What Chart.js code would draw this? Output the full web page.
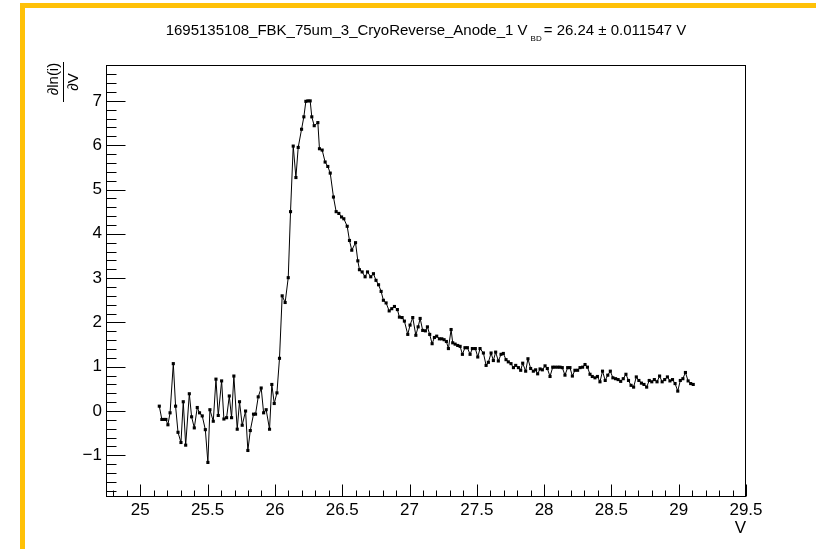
<!DOCTYPE html>
<html>
<head>
<meta charset="utf-8">
<title>dln(i)/dV</title>
<script src="https://cdn.jsdelivr.net/npm/chart.js"></script>
<style>
  html, body { margin: 0; padding: 0; background: #fff; }
  #wrap  { position: relative; width: 816px; height: 549px; overflow: hidden; font-family: 'Liberation Sans', Arial, sans-serif; color: #000; }
  #edge  { position: absolute; left: 20px; top: 3px; right: -10px; bottom: -10px; border-left: 5px solid #ffc107; border-top: 5px solid #ffc107; }
  #c     { position: absolute; left: 0; top: 0; }
  #title { position: absolute; left: 426px; top: 21px; transform: translateX(-50%); white-space: nowrap; font-size: 15px; }
  #title sub { font-size: 8px; vertical-align: -6px; margin-left: 3px; margin-right: 2px; }
  /* y axis title: a fraction turned on its side */
  .rot   { position: absolute; transform: translate(-50%, -50%) rotate(-90deg); font-size: 15px; line-height: 15px; white-space: nowrap; }
  #ynum  { left: 52px; top: 79px; }
  #yden  { left: 72px; top: 82px; }
  #ybar  { position: absolute; left: 63px; top: 62px; width: 1px; height: 40px; background: #000; }
</style>
</head>
<body>
<div id="wrap">
  <div id="edge"></div>
  <canvas id="c" width="816" height="549"></canvas>
  <div id="title">1695135108_FBK_75um_3_CryoReverse_Anode_1 V<sub>BD</sub>= 26.24 ± 0.011547 V</div>
  <div id="ynum" class="rot">∂ln(i)</div>
  <div id="ybar"></div>
  <div id="yden" class="rot">∂V</div>
</div>

<script>
// bias voltage (V)
const voltage = [
  25.141, 25.160, 25.176, 25.190, 25.205, 25.221, 25.245, 25.262, 25.280, 25.302,
  25.319, 25.337, 25.364, 25.381, 25.401, 25.423, 25.440, 25.460, 25.483, 25.502,
  25.517, 25.542, 25.562, 25.579, 25.604, 25.621, 25.641, 25.661, 25.678, 25.695,
  25.720, 25.737, 25.757, 25.782, 25.799, 25.817, 25.841, 25.856, 25.876, 25.898,
  25.916, 25.935, 25.960, 25.977, 25.995, 26.015, 26.034, 26.054, 26.076,
  26.099, 26.116, 26.136, 26.156, 26.173, 26.198, 26.215, 26.230, 26.245, 26.262,
  26.274, 26.292, 26.319, 26.331, 26.351, 26.373, 26.393, 26.411, 26.435, 26.455,
  26.475, 26.495, 26.512, 26.537, 26.554, 26.571, 26.599, 26.616, 26.628, 26.648,
  26.670, 26.688, 26.712, 26.732, 26.751, 26.770,
  26.789, 26.806, 26.826, 26.849, 26.868, 26.888, 26.910, 26.925, 26.945, 26.962,
  26.987, 27.004, 27.024, 27.047, 27.064, 27.079, 27.098, 27.118, 27.133, 27.150,
  27.168, 27.185, 27.202, 27.222, 27.240, 27.257, 27.274, 27.289, 27.309, 27.321,
  27.339, 27.358, 27.376, 27.393, 27.412, 27.430, 27.450, 27.467, 27.489, 27.507,
  27.524, 27.549, 27.569, 27.586, 27.606, 27.623, 27.640, 27.660, 27.680, 27.697,
  27.717, 27.734, 27.754, 27.772, 27.789, 27.809, 27.826, 27.841, 27.863, 27.880,
  27.900, 27.920, 27.937, 27.952, 27.970, 27.987, 28.007, 28.024, 28.044, 28.064,
  28.081, 28.101, 28.118, 28.135, 28.155, 28.175, 28.192, 28.210, 28.229, 28.249,
  28.267, 28.286, 28.304, 28.322, 28.341, 28.358, 28.378, 28.396,
  28.415, 28.434, 28.454, 28.473, 28.492, 28.511, 28.531, 28.550, 28.569, 28.588,
  28.608, 28.627, 28.646, 28.665, 28.685, 28.704, 28.723, 28.742, 28.762, 28.781,
  28.800, 28.819, 28.839, 28.858, 28.877, 28.896, 28.916, 28.935, 28.954, 28.973,
  28.993, 29.012, 29.031, 29.050, 29.070, 29.089, 29.108
];

// d ln(i) / dV at each voltage
const dlnI = [
  0.11, -0.19, -0.19, -0.19, -0.31, -0.04, 1.07, 0.11, -0.48, -0.71,
  0.21, -0.77, 0.39, -0.13, -0.38, 0.08, -0.04, -0.11, -0.42, -1.16,
  0.03, -0.23, 0.72, -0.10, 0.68, -0.18, -0.15, 0.34, -0.15, 0.79,
  -0.41, 0.21, -0.32, 0.00, -0.89, -0.44, -0.07, -0.07, 0.32, 0.52,
  -0.04, 0.03, -0.41, 0.60, 0.17, 0.41, 1.19, 2.60, 2.45,
  3.01, 4.50, 5.98, 5.27, 5.95, 6.36, 6.64, 6.99, 7.00, 7.00,
  6.64, 6.44, 6.51, 5.92, 5.89, 5.62, 5.52, 5.37, 4.83, 4.50,
  4.46, 4.38, 4.34, 4.17, 3.85, 3.63, 3.80, 3.39, 3.19, 3.14,
  3.03, 3.14, 3.03, 3.10, 2.95, 2.85,
  2.70, 2.50, 2.44, 2.26, 2.31, 2.36, 2.29, 2.12, 2.11, 2.03,
  1.73, 1.94, 2.11, 1.71, 1.90, 2.09, 1.82, 1.81, 1.90, 1.73,
  1.52, 1.66, 1.69, 1.63, 1.63, 1.61, 1.57, 1.41, 1.84, 1.54,
  1.51, 1.48, 1.46, 1.28, 1.43, 1.43, 1.28, 1.41, 1.41, 1.22,
  1.41, 1.31, 1.03, 1.10, 1.31, 1.14, 1.33, 1.13, 1.28, 1.30,
  1.16, 1.11, 1.07, 0.98, 1.03, 0.98, 0.92, 1.08, 0.90, 1.18,
  0.96, 0.90, 0.93, 0.84, 0.95, 0.93, 1.02, 0.96, 0.78, 0.99,
  0.99, 0.99, 0.99, 0.98, 0.81, 0.98, 0.98, 0.79, 0.92, 0.92,
  0.98, 0.99, 1.05, 0.99, 0.83, 0.78, 0.75, 0.78,
  0.66, 0.90, 0.69, 0.81, 0.90, 0.75, 0.73, 0.71, 0.67, 0.73,
  0.83, 0.69, 0.58, 0.54, 0.77, 0.69, 0.63, 0.60, 0.54, 0.69,
  0.66, 0.71, 0.66, 0.79, 0.66, 0.71, 0.77, 0.68, 0.71, 0.62,
  0.45, 0.69, 0.73, 0.87, 0.68, 0.62, 0.60
];

// axis ranges as shown on the frame
const xRange = [24.745, 29.5];
const yRange = [-1.94, 7.81];

// tick marks: x every 0.1 V (labels every 0.5), y every 0.2 (labels every 1)
const xTicks = [];
for (let k = 248; k <= 295; k++) xTicks.push(k / 10);
const yTicks = [];
for (let k = -9; k <= 39; k++) yTicks.push(k / 5);

const points = voltage.map((v, i) => ({ x: v, y: dlnI[i] }));

const isMultiple = (v, step) => Math.abs(v / step - Math.round(v / step)) < 1e-6;

// ROOT style: closed frame, ticks pointing into the pad
const rootFrame = {
  id: 'rootFrame',
  afterDatasetsDraw(chart) {
    const { ctx, chartArea: a, scales: { x, y } } = chart;
    const L = Math.round(a.left) + 0.5, R = Math.round(a.right) - 0.5;
    const T = Math.round(a.top) + 0.5,  B = Math.round(a.bottom) - 0.5;
    ctx.save();
    ctx.strokeStyle = '#000';
    ctx.lineWidth = 1;
    ctx.strokeRect(L, T, R - L, B - T);
    ctx.beginPath();
    x.ticks.forEach(t => {
      const px = Math.round(x.getPixelForValue(t.value)) + 0.5;
      const len = isMultiple(t.value, 0.5) ? 12 : 6;
      ctx.moveTo(px, B);
      ctx.lineTo(px, B - len);
    });
    y.ticks.forEach(t => {
      const py = Math.round(y.getPixelForValue(t.value)) + 0.5;
      const len = isMultiple(t.value, 1) ? 19 : 10;
      ctx.moveTo(L, py);
      ctx.lineTo(L + len, py);
    });
    ctx.stroke();
    ctx.restore();
  }
};

const tickFont = { family: "'Liberation Sans', Arial, sans-serif", size: 17 };

new Chart(document.getElementById('c'), {
  type: 'line',
  data: {
    datasets: [{
      data: points,
      borderColor: '#000',
      borderWidth: 1,
      backgroundColor: '#000',
      pointStyle: 'rect',
      pointRadius: 2.2,
      pointBorderWidth: 0,
      pointBackgroundColor: '#000',
      tension: 0,
      fill: false
    }]
  },
  options: {
    responsive: false,
    animation: false,
    layout: { padding: { left: 66, right: 70, top: 65, bottom: 7 } },
    plugins: { legend: { display: false }, tooltip: { enabled: false } },
    scales: {
      x: {
        type: 'linear',
        min: xRange[0],
        max: xRange[1],
        grid: { display: false, drawTicks: false },
        border: { display: false },
        afterBuildTicks: s => { s.ticks = xTicks.map(v => ({ value: v })); },
        ticks: {
          autoSkip: false,
          maxRotation: 0,
          padding: 3,
          color: '#000',
          font: tickFont,
          callback: v => isMultiple(v, 0.5) ? String(v) : ''
        },
        title: { display: true, text: 'V', align: 'end', color: '#000', font: { family: tickFont.family, size: 17 }, padding: { top: 0, bottom: 3 } },
        afterFit: s => { s.height = 45; }
      },
      y: {
        type: 'linear',
        min: yRange[0],
        max: yRange[1],
        grid: { display: false, drawTicks: false },
        border: { display: false },
        afterBuildTicks: s => { s.ticks = yTicks.map(v => ({ value: v })); },
        ticks: {
          autoSkip: false,
          padding: 4,
          color: '#000',
          font: tickFont,
          callback: v => isMultiple(v, 1) ? (v < 0 ? '\u2212' + Math.abs(v) : String(v)) : ''
        },
        afterFit: s => { s.width = 40; }
      }
    }
  },
  plugins: [rootFrame]
});
</script>
</body>
</html>
